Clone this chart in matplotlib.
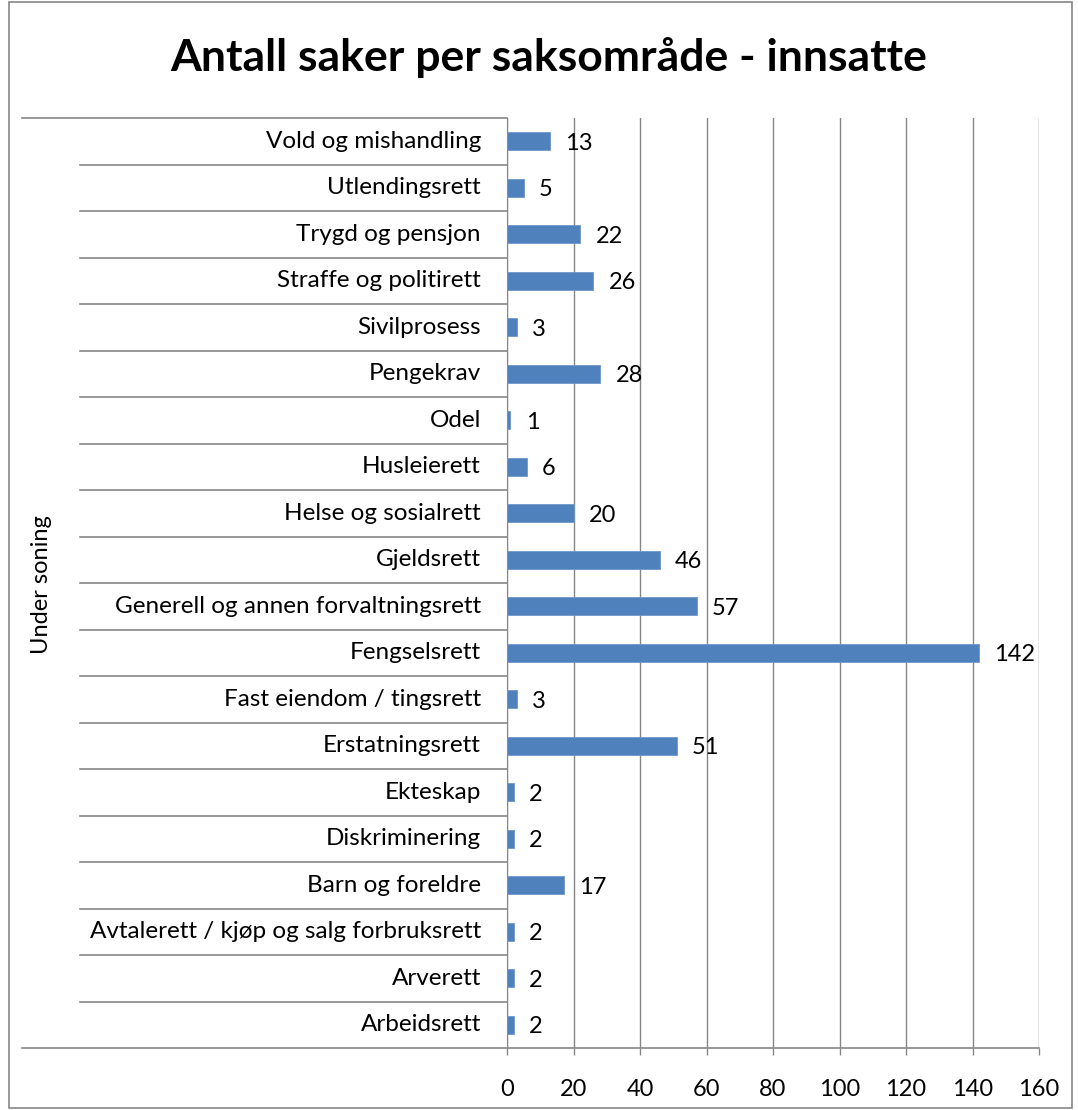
import matplotlib
matplotlib.use("Agg")
import matplotlib.pyplot as plt
import matplotlib.transforms as mtransforms
from matplotlib.patches import Rectangle

# data, top to bottom as in the chart
categories = [
    "Vold og mishandling", "Utlendingsrett", "Trygd og pensjon",
    "Straffe og politirett", "Sivilprosess", "Pengekrav", "Odel",
    "Husleierett", "Helse og sosialrett", "Gjeldsrett",
    "Generell og annen forvaltningsrett", "Fengselsrett",
    "Fast eiendom / tingsrett", "Erstatningsrett", "Ekteskap",
    "Diskriminering", "Barn og foreldre",
    "Avtalerett / kjøp og salg forbruksrett", "Arverett", "Arbeidsrett",
]
values = [13, 5, 22, 26, 3, 28, 1, 6, 20, 46, 57, 142, 3, 51, 2, 2, 17, 2, 2, 2]
x_ticks = [0, 20, 40, 60, 80, 100, 120, 140, 160]
group_label = "Under soning"
title = "Antall saker per saksområde - innsatte"

plt.rcParams["font.family"] = ["Lato", "DejaVu Sans"]

W, H = 1078, 1110
fig = plt.figure(figsize=(W / 100, H / 100), dpi=100)

# plot area in pixels (from the reference)
px_left, px_right, px_top, px_bottom = 507, 1039, 118, 1048
ax = fig.add_axes([px_left / W, 1 - px_bottom / H,
                   (px_right - px_left) / W, (px_bottom - px_top) / H])

n = len(categories)
ypos = list(range(n - 1, -1, -1))
bar_col = "#4F81BD"
grid_col = "#868686"
fs = 17

ax.barh(ypos, values, height=0.39, color=bar_col, edgecolor="#6D97CB",
        linewidth=0.6, zorder=3)
for y, v in zip(ypos, values):
    ax.annotate(str(v), (v, y), xytext=(11, -1.5), textcoords="offset points",
                ha="left", va="center", fontsize=fs, color="black", zorder=4)

ax.set_xlim(0, 160)
ax.set_ylim(-0.5, n - 0.5)
ax.set_xticks(x_ticks)
ax.set_xticklabels([str(t) for t in x_ticks], fontsize=fs)
ax.set_yticks([])
ax.tick_params(axis="x", length=5, width=1, color=grid_col, pad=17)
ax.grid(axis="x", color=grid_col, linewidth=1, zorder=0)
for s in ["top", "right", "bottom"]:
    ax.spines[s].set_visible(False)
ax.spines["left"].set_color(grid_col)

# category labels and separator lines (multi-level category axis look)
blend = mtransforms.blended_transform_factory(fig.transFigure, ax.transData)
label_x = 481 / W
for y, c in zip(ypos, categories):
    fig.text(label_x, y, c, transform=blend, ha="right", va="center",
             fontsize=17.5)
sep_x0 = 80 / W
for k in range(n - 1):
    fig.add_artist(plt.Line2D([sep_x0, px_left / W], [k + 0.5, k + 0.5],
                              transform=blend, color=grid_col, linewidth=1.2))
outer_x0 = 22 / W
fig.add_artist(plt.Line2D([outer_x0, px_left / W], [n - 0.5, n - 0.5],
                          transform=blend, color=grid_col, linewidth=1.2))
fig.add_artist(plt.Line2D([outer_x0, px_right / W], [-0.5, -0.5],
                          transform=blend, color=grid_col, linewidth=1.2))

fig.text(42 / W, 1 - 585 / H, group_label, rotation=90, ha="center",
         va="center", fontsize=fs)

fig.text(549 / W, 1 - 58 / H, title, ha="center", va="center",
         fontsize=32, fontweight="bold")

# chart border
fig.add_artist(Rectangle((9 / W, 2 / H), (1072 - 9) / W, (1108 - 2) / H,
                         transform=fig.transFigure, fill=False,
                         edgecolor=grid_col, linewidth=1.2))

fig.savefig("out.png", dpi=100)
